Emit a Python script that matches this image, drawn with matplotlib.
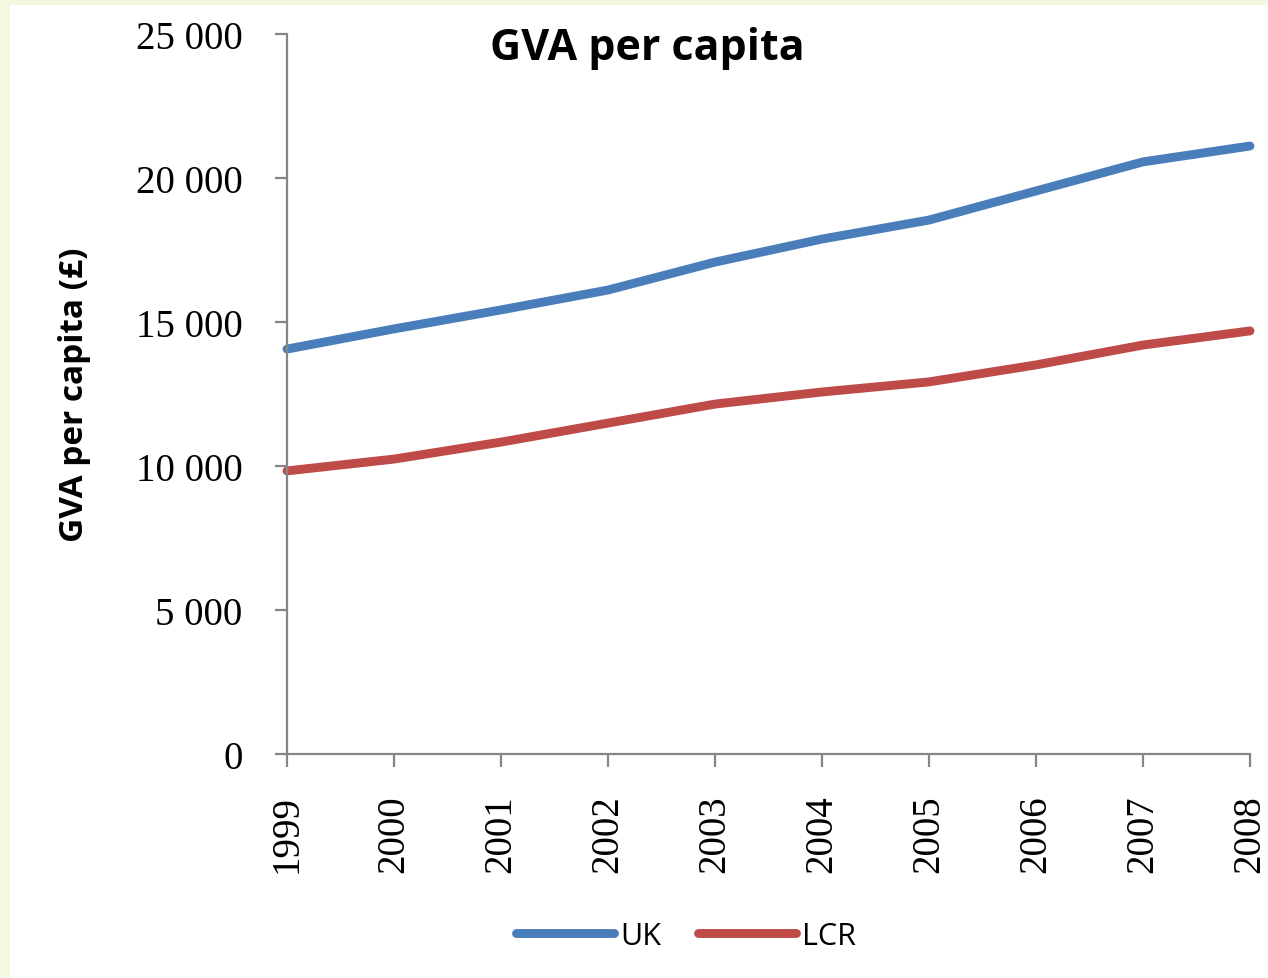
import matplotlib.pyplot as plt
from matplotlib.patches import Rectangle
from matplotlib.ticker import FuncFormatter

years = ['1999', '2000', '2001', '2002', '2003', '2004', '2005', '2006', '2007', '2008']
uk = [14060, 14760, 15420, 16110, 17080, 17880, 18540, 19550, 20560, 21110]
lcr = [9830, 10240, 10830, 11490, 12150, 12570, 12920, 13510, 14200, 14690]

fig = plt.figure(figsize=(12.68, 9.79), dpi=100, facecolor='#f5f7e1')
# white chart area inside the pale yellow frame
fig.patches.append(Rectangle((10 / 1268, 0), 1, 1 - 6 / 979, transform=fig.transFigure,
                             facecolor='white', edgecolor='none', zorder=-5))

ax = fig.add_axes([287 / 1268, 1 - 755 / 979, (1250 - 287) / 1268, (755 - 35) / 979])
ax.set_facecolor('none')

x = range(len(years))
ax.plot(x, uk, color='#4a7ebb', lw=6.4, solid_capstyle='round', solid_joinstyle='round', label='UK', clip_on=False)
ax.plot(x, lcr, color='#be4b48', lw=6.4, solid_capstyle='round', solid_joinstyle='round', label='LCR', clip_on=False)

ax.set_xlim(0, len(years) - 1)
ax.set_ylim(0, 25000)
ax.set_yticks(range(0, 25001, 5000))
ax.yaxis.set_major_formatter(FuncFormatter(lambda v, p: f'{int(v):,}'.replace(',', ' ')))
ax.set_xticks(list(x))
ax.set_xticklabels(years, rotation=90)

for s in ['top', 'right']:
    ax.spines[s].set_visible(False)
for s in ['left', 'bottom']:
    ax.spines[s].set_color('#868686')
    ax.spines[s].set_linewidth(1.6)

ax.tick_params(axis='y', length=9, width=1.6, color='#868686', pad=23,
               labelsize=28, labelfontfamily='Liberation Serif')
ax.tick_params(axis='x', length=9, width=1.6, color='#868686', pad=20,
               labelsize=28, labelfontfamily='Liberation Serif')

fig.text(647 / 1268, 1 - 48 / 979, 'GVA per capita', ha='center', va='center',
         fontsize=31, fontweight='bold', family='Open Sans')
fig.text(75 / 1268, 1 - 395 / 979, 'GVA per capita (£)', ha='center', va='center', rotation=90,
         fontsize=24, fontweight='bold', family='Open Sans')

fig.legend(loc='center', bbox_to_anchor=(686 / 1268, 1 - 937 / 979), ncol=2, frameon=False,
           prop={'family': 'Open Sans', 'size': 22}, handlelength=3.2, handletextpad=0.2,
           columnspacing=1.2)

fig.savefig('out.png', dpi=100, facecolor=fig.get_facecolor())
